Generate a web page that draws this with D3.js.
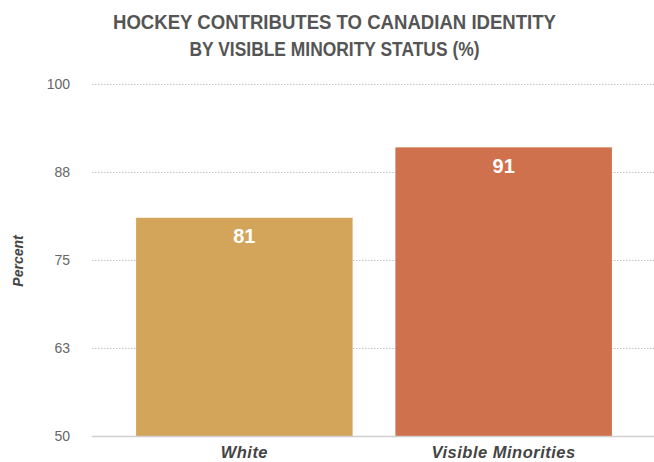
<!DOCTYPE html>
<html>
<head>
<meta charset="utf-8">
<script src="https://cdn.jsdelivr.net/npm/d3@7"></script>
<style>
  html, body { margin: 0; padding: 0; background: #fff; }
  svg { display: block; font-family: "Liberation Sans", Arial, Helvetica, sans-serif; }
</style>
</head>
<body>
<svg id="chart" width="654" height="462"></svg>
<script>
// Share of respondents saying hockey contributes to Canadian identity
const categories = ["White", "Visible Minorities"];
const values = [81, 91];
const barColors = ["#D3A55A", "#D0714D"];
const tickValues = [50, 62.5, 75, 87.5, 100];
const titleLines = ["HOCKEY CONTRIBUTES TO CANADIAN IDENTITY", "BY VISIBLE MINORITY STATUS (%)"];

const svg = d3.select("#chart");
const W = 654, H = 462;
const plot = { left: 92, right: 656, top: 84, bottom: 436 };

const x = d3.scaleBand()
  .domain(categories)
  .range([plot.left, plot.right])
  .paddingInner(0.165)
  .paddingOuter(0.17);

const y = d3.scaleLinear()
  .domain([50, 100])
  .range([plot.bottom, plot.top]);

// Title
svg.append("g")
  .selectAll("text")
  .data(titleLines)
  .join("text")
  .attr("x", 334.5)
  .attr("y", (d, i) => 28.5 + i * 27)
  .attr("text-anchor", "middle")
  .attr("font-size", 21)
  .attr("font-weight", "bold")
  .attr("fill", "#555")
  .attr("textLength", (d, i) => i === 0 ? 443 : 290)
  .attr("lengthAdjust", "spacingAndGlyphs")
  .text(d => d);

// Gridlines
const grid = svg.append("g");
grid.selectAll("line")
  .data(tickValues.filter(v => v !== 50))
  .join("line")
  .attr("x1", plot.left)
  .attr("x2", W)
  .attr("y1", d => Math.round(y(d)) + 0.5)
  .attr("y2", d => Math.round(y(d)) + 0.5)
  .attr("stroke", "#c4c4c4")
  .attr("stroke-width", 1)
  .attr("stroke-dasharray", "1.5,1.5");

// Y axis labels
const yAxis = d3.axisLeft(y)
  .tickValues(tickValues)
  .tickFormat(d => Math.round(d))
  .tickSize(0)
  .tickPadding(0);
svg.append("g")
  .attr("transform", "translate(70,0)")
  .call(yAxis)
  .call(g => g.select(".domain").remove())
  .call(g => g.selectAll("text")
    .attr("font-size", 14)
    .attr("fill", "#666")
    .attr("font-family", "Liberation Sans, Arial, sans-serif"));

// Bars
svg.append("g")
  .selectAll("rect")
  .data(categories)
  .join("rect")
  .attr("x", d => x(d))
  .attr("width", x.bandwidth())
  .attr("y", (d, i) => y(values[i]))
  .attr("height", (d, i) => y(50) - y(values[i]))
  .attr("fill", (d, i) => barColors[i]);

// Value labels
svg.append("g")
  .selectAll("text")
  .data(categories)
  .join("text")
  .attr("x", d => x(d) + x.bandwidth() / 2)
  .attr("y", (d, i) => y(values[i]) + 25.5)
  .attr("text-anchor", "middle")
  .attr("font-size", 20)
  .attr("font-weight", "bold")
  .attr("fill", "#fff")
  .text((d, i) => values[i]);

// Baseline
svg.append("line")
  .attr("x1", plot.left)
  .attr("x2", W)
  .attr("y1", y(50) + 0.5)
  .attr("y2", y(50) + 0.5)
  .attr("stroke", "#cfcfcf")
  .attr("stroke-width", 1.5);

// X axis labels
const xAxis = d3.axisBottom(x).tickSize(0).tickPadding(0);
svg.append("g")
  .attr("transform", "translate(0,458)")
  .call(xAxis)
  .call(g => g.select(".domain").remove())
  .call(g => g.selectAll("text")
    .attr("y", 0)
    .attr("dy", 0)
    .attr("font-size", 16.5)
    .attr("font-weight", "bold")
    .attr("font-style", "italic")
    .attr("letter-spacing", 0.5)
    .attr("fill", "#444")
    .attr("font-family", "Liberation Sans, Arial, sans-serif"));

// Y axis title
svg.append("text")
  .attr("transform", "translate(23,261) rotate(-90)")
  .attr("text-anchor", "middle")
  .attr("font-size", 14)
  .attr("font-weight", "bold")
  .attr("font-style", "italic")
  .attr("fill", "#444")
  .text("Percent");
</script>
</body>
</html>
